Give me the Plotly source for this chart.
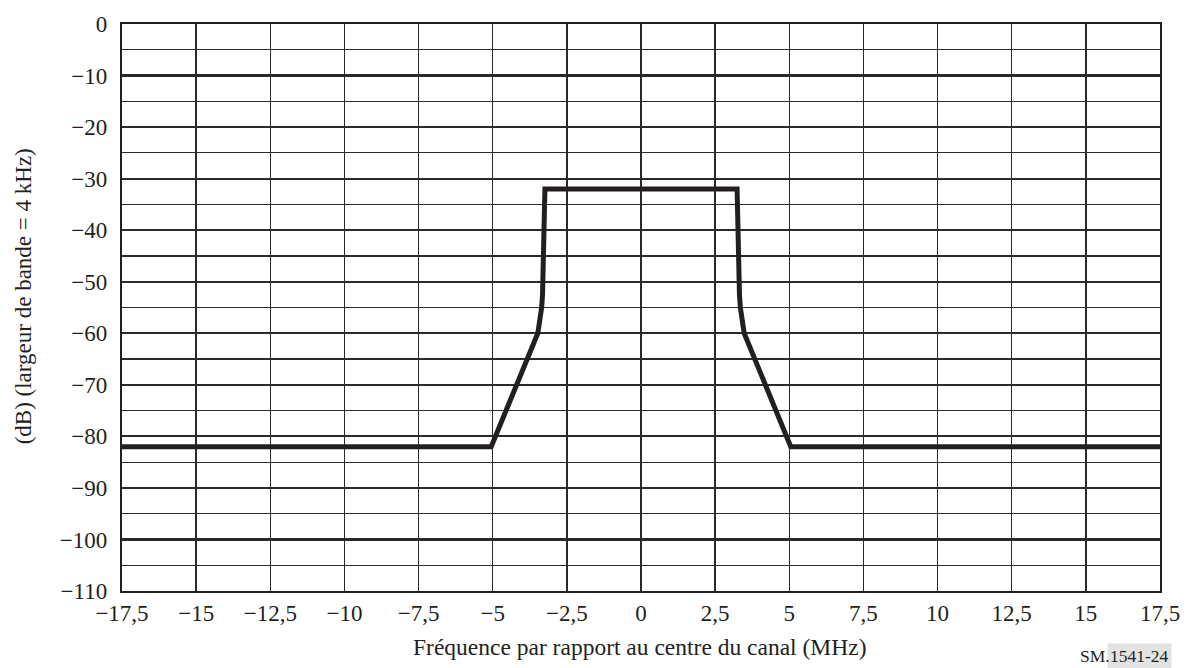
import plotly.graph_objects as go

# Mask data (frequency offset in MHz, level in dB)
freq_mhz = [-17.5, -5.05, -3.48, -3.40, -3.35, -3.32, -3.29, -3.26, -3.24,
            3.24, 3.26, 3.29, 3.32, 3.35, 3.40, 3.48, 5.05, 17.5]
level_db = [-82, -82, -60, -57.5, -55, -52.5, -47, -40, -32,
            -32, -40, -47, -52.5, -55, -57.5, -60, -82, -82]

x_ticks = [-17.5, -15, -12.5, -10, -7.5, -5, -2.5, 0, 2.5, 5, 7.5, 10, 12.5, 15, 17.5]
x_tick_labels = ["\u221217,5", "\u221215", "\u221212,5", "\u221210", "\u22127,5", "\u22125",
                 "\u22122,5", "0", "2,5", "5", "7,5", "10", "12,5", "15", "17,5"]
y_ticks = [0, -10, -20, -30, -40, -50, -60, -70, -80, -90, -100, -110]
y_tick_labels = ["0", "\u221210", "\u221220", "\u221230", "\u221240", "\u221250", "\u221260",
                 "\u221270", "\u221280", "\u221290", "\u2212100", "\u2212110"]

x_title = "Fréquence par rapport au centre du canal (MHz)"
y_title = "(dB) (largeur de bande = 4 kHz)"

FONT = "Liberation Serif, Times New Roman, serif"
INK = "#231f20"
GRID = "#2a2a2a"

fig = go.Figure()
fig.add_trace(go.Scatter(
    x=freq_mhz, y=level_db, mode="lines",
    line=dict(color=INK, width=5), hoverinfo="skip", showlegend=False,
))

fig.update_xaxes(
    range=[-17.5, 17.5], tickmode="array", tickvals=x_ticks, ticktext=x_tick_labels,
    showgrid=True, gridcolor=GRID, gridwidth=1.5, zeroline=False,
    showline=True, linecolor=INK, linewidth=2, mirror=True, ticks="",
    tickfont=dict(family=FONT, size=23, color=INK), ticklabelstandoff=0,
)
fig.update_yaxes(
    range=[-110, 0], tickmode="array", tickvals=y_ticks, ticktext=y_tick_labels,
    showgrid=True, gridcolor=GRID, gridwidth=2.2, zeroline=False,
    showline=True, linecolor=INK, linewidth=2.2, mirror=True, ticks="",
    tickfont=dict(family=FONT, size=23, color=INK), ticklabelstandoff=8,
    minor=dict(tickmode="linear", tick0=0, dtick=5, showgrid=True,
               gridcolor=GRID, gridwidth=1.2, ticks=""),
)

fig.add_annotation(text=y_title, xref="paper", yref="paper", x=-0.0952, y=0.52,
                   xanchor="center", yanchor="middle", textangle=-90, showarrow=False,
                   font=dict(family=FONT, size=23, color=INK))
fig.add_annotation(text=x_title, xref="paper", yref="paper", x=0.4985, y=-0.098,
                   xanchor="center", yanchor="middle", showarrow=False,
                   font=dict(family=FONT, size=23.5, color=INK))
fig.add_annotation(text="1541-24", xref="paper", yref="paper", x=1.0115, y=-0.1155,
                   xanchor="right", yanchor="middle", showarrow=False,
                   bgcolor="#e3e3e3", borderpad=2,
                   font=dict(family=FONT, size=17.5, color=INK))
fig.add_annotation(text="SM.", xref="paper", yref="paper", x=0.9540, y=-0.1155,
                   xanchor="right", yanchor="middle", showarrow=False,
                   font=dict(family=FONT, size=17.5, color=INK))

fig.update_layout(
    width=1192, height=668,
    margin=dict(l=122, r=30, t=16, b=77),
    paper_bgcolor="white", plot_bgcolor="white",
    font=dict(family=FONT, color=INK),
    showlegend=False,
)

fig.write_html("out.html", config={"displayModeBar": False, "staticPlot": True},
               post_script="document.body.style.margin='0';document.body.style.overflow='hidden';")
